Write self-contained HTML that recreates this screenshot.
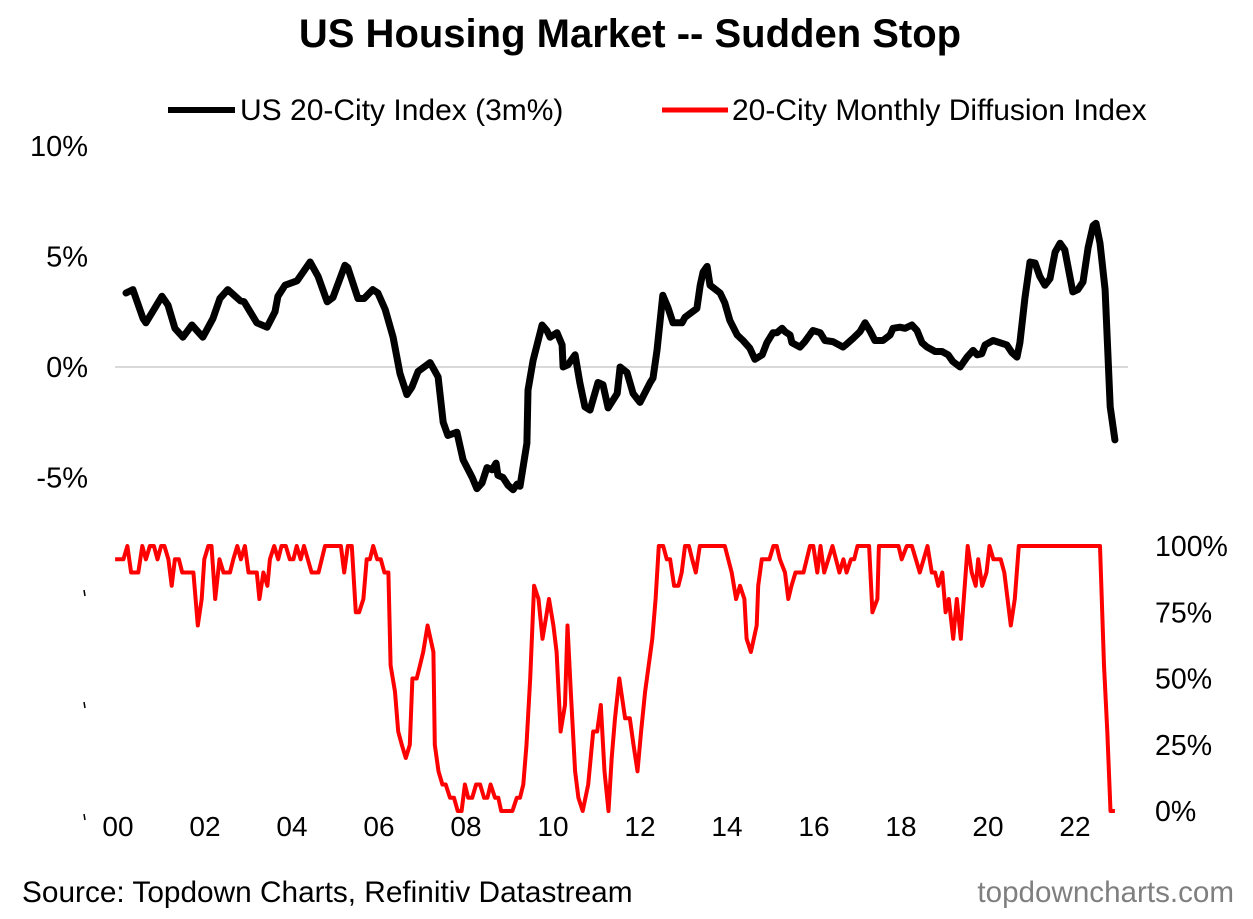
<!DOCTYPE html>
<html><head><meta charset="utf-8"><style>
html,body{margin:0;padding:0;background:#fff;}
svg{display:block;font-family:"Liberation Sans",Arial,sans-serif;}
</style></head><body>
<svg id="chart" width="1253" height="919" viewBox="0 0 1253 919" xmlns="http://www.w3.org/2000/svg">
<text x="630" y="47" text-anchor="middle" font-size="40" font-weight="bold" fill="#000">US Housing Market -- Sudden Stop</text>
<g>
 <g>
  <line x1="168" y1="110" x2="235" y2="110" stroke="#000" stroke-width="6"/>
  <text x="240" y="120" font-size="30" fill="#000">US 20-City Index (3m%)</text>
 </g>
 <g>
  <line x1="662" y1="110" x2="728" y2="110" stroke="#f00" stroke-width="5"/>
  <text x="732" y="120" font-size="30" fill="#000">20-City Monthly Diffusion Index</text>
 </g>
</g>
<line x1="115" y1="367" x2="1128" y2="367" stroke="#d9d9d9" stroke-width="2"/>
<g id="axes"></g>
<g id="series"></g>
<text x="22" y="902" font-size="29.8" fill="#000">Source: Topdown Charts, Refinitiv Datastream</text>
<text x="1234" y="902" text-anchor="end" font-size="29.6" fill="#7f7f7f">topdowncharts.com</text>
</svg>
<script>
// Black series: months since Jan 2000, 3m% change
const blackMonths=[2.2,4.1,6.9,7.7,12.1,13.8,15.7,17.9,20.4,23.4,26.2,28.1,30.3,33.7,34.8,38.3,41.1,43.3,44.1,46.1,49.4,53.0,55.2,57.7,59.3,62.6,63.4,66.2,67.9,70.3,71.7,73.7,75.9,77.8,79.7,81.1,82.8,86.1,88.3,89.7,91.0,93.5,95.2,97.7,99.0,100.4,101.8,103.2,104.3,104.8,106.2,107.6,109.0,110.1,110.9,112.8,113.1,114.5,117.0,118.3,119.2,121.1,122.5,122.8,124.1,126.1,127.4,128.8,130.2,132.4,133.8,135.2,137.7,138.5,140.4,142.1,144.0,146.8,147.6,148.7,150.3,151.7,153.1,155.6,156.4,159.7,160.6,161.4,162.5,163.3,166.1,167.4,168.8,170.8,172.4,174.3,175.7,177.7,179.0,180.7,181.8,183.2,184.0,185.4,185.9,188.1,189.5,191.7,193.7,195.0,197.2,200.0,201.1,202.8,204.7,206.1,207.4,208.8,211.0,213.0,213.8,215.7,217.1,219.0,220.4,221.8,223.2,225.4,227.3,229.0,230.3,232.3,234.2,235.9,237.0,238.3,239.2,241.4,245.2,246.6,248.0,248.8,250.2,251.6,253.0,254.3,255.7,257.1,258.5,259.9,261.2,263.4,264.8,266.2,267.6,269.0,269.8,270.9,272.3,273.7,275.0];
const blackValues=[3.35,3.5,2.2,2.0,3.2,2.8,1.75,1.35,1.9,1.35,2.2,3.1,3.5,3.0,2.95,2.0,1.8,2.5,3.2,3.7,3.9,4.75,4.1,2.95,3.15,4.6,4.5,3.1,3.1,3.5,3.35,2.6,1.35,-0.3,-1.25,-0.9,-0.2,0.2,-0.45,-2.5,-3.1,-2.95,-4.2,-5.0,-5.5,-5.25,-4.55,-4.65,-4.35,-4.9,-5.0,-5.35,-5.55,-5.3,-5.4,-3.45,-1.05,0.3,1.9,1.65,1.35,1.55,1.0,0,0.1,0.55,-0.7,-1.8,-1.95,-0.7,-0.8,-1.85,-1.2,0,-0.25,-1.2,-1.6,-0.7,-0.5,0.75,3.25,2.7,2.0,2.0,2.25,2.65,3.7,4.3,4.55,3.7,3.35,2.9,2.1,1.45,1.2,0.85,0.35,0.55,1.1,1.55,1.55,1.75,1.6,1.45,1.1,0.9,1.15,1.65,1.55,1.2,1.15,0.9,1.05,1.3,1.6,2.0,1.65,1.2,1.2,1.45,1.75,1.8,1.75,1.9,1.65,1.1,0.9,0.7,0.7,0.55,0.25,0,0.45,0.75,0.55,0.6,1.0,1.2,1.0,0.65,0.45,1.1,3.15,4.75,4.7,4.1,3.7,4.0,5.2,5.6,5.3,3.4,3.5,3.85,5.4,6.4,6.5,5.6,3.5,-1.8,-3.3];
// Red series: months since Jan 2000, diffusion index %
const redMonths=[-0.8,1.5,2.6,3.6,5.6,6.7,7.7,8.8,9.9,10.9,11.9,12.8,13.9,14.8,15.7,16.8,17.7,20.8,22.0,23.1,23.8,24.9,25.8,26.8,28.0,29.1,30.9,31.8,32.9,33.9,35.0,36.0,38.3,39.0,40.1,41.2,41.9,43.1,44.2,45.1,46.3,47.4,48.4,49.3,50.4,51.3,53.4,55.3,57.1,61.5,62.4,63.4,64.5,65.6,66.5,67.7,68.6,69.5,70.4,71.5,72.5,73.5,74.6,75.2,76.4,77.3,78.3,79.4,80.5,81.2,82.4,83.3,84.2,85.4,87.0,87.4,88.4,89.5,90.4,91.6,92.7,93.7,94.8,95.7,96.6,97.7,98.8,99.9,101.0,101.9,102.8,104.0,104.9,105.7,108.8,110.0,110.9,111.8,112.7,113.7,114.8,116.0,117.1,118.0,118.9,120.1,121.0,122.1,123.3,124.0,124.9,126.1,127.0,128.2,129.7,131.1,132.2,133.2,134.2,135.3,136.2,137.1,138.3,139.9,141.2,142.2,143.3,144.3,145.4,147.4,148.3,149.2,150.4,151.4,152.3,153.4,154.6,155.5,156.4,157.5,158.4,159.4,160.5,167.4,169.3,170.5,171.6,172.8,173.4,174.6,176.2,176.6,177.6,179.7,180.8,181.7,182.6,184.0,184.9,185.8,186.9,189.1,190.9,191.8,192.9,193.8,194.8,197.1,199.0,200.1,201.0,202.2,203.1,204.0,207.2,208.1,209.5,209.9,215.3,216.2,217.6,219.0,221.2,223.3,224.5,225.4,226.3,227.4,228.3,229.2,230.4,231.4,232.5,234.4,235.5,236.6,237.3,238.4,239.6,240.4,241.5,243.5,244.5,246.3,247.4,248.5,270.9,272.0,272.9,273.8,275.0];
const redValues=[95,95,100,90,90,100,95,100,100,95,100,100,95,85,95,95,90,90,70,80,95,100,100,80,95,90,90,95,100,95,100,90,90,80,90,85,95,100,95,100,100,95,95,100,95,100,90,90,100,100,90,100,100,75,75,80,95,95,100,95,95,90,90,55,45,30,25,20,25,50,50,55,60,70,60,25,15,10,10,5,5,0,0,10,5,5,10,10,5,5,10,5,5,0,0,5,5,10,25,50,85,80,65,72.5,80,70,60,30,40,70,45,15,5,0,10,30,30,40,15,0,20,35,50,35,35,25,15,30,45,65,80,100,100,95,95,85,85,90,100,100,95,90,100,100,90,80,85,80,65,60,70,85,95,95,100,100,95,90,80,85,90,90,100,100,90,100,90,100,90,95,90,95,95,100,100,75,80,100,100,95,100,100,90,100,90,90,85,90,75,80,65,80,65,100,90,85,95,85,90,100,95,95,90,70,80,100,100,55,30,0,0];
const leftTicks=[10,5,0,-5];
const leftTickLabels=["10%","5%","0%","-5%"];
const rightTicks=[100,75,50,25,0];
const rightTickLabels=["100%","75%","50%","25%","0%"];
const xTickYears=[0,2,4,6,8,10,12,14,16,18,20,22];
const xTickLabels=["00","02","04","06","08","10","12","14","16","18","20","22"];

const NS="http://www.w3.org/2000/svg";
const xM=m=>118+m*3.625;
const yL=v=>367-v*22.1;
const yR=v=>811-v*2.65;
const axes=document.getElementById('axes');
const series=document.getElementById('series');
function mk(tag,attrs,parent,txt){const e=document.createElementNS(NS,tag);for(const k in attrs)e.setAttribute(k,attrs[k]);if(txt!==undefined)e.textContent=txt;parent.appendChild(e);return e;}

leftTicks.forEach((v,i)=>{
 const t=mk('text',{x:88,y:yL(v)+10,'text-anchor':'end','font-size':29,fill:'#000'},axes,leftTickLabels[i]);
 
 
});
rightTicks.forEach((v,i)=>{
 const t=mk('text',{x:1155,y:yR(v)+10,'font-size':28.5,fill:'#000'},axes,rightTickLabels[i]);
 
 
});
[593,705,817].forEach(y=>{
 const l=mk('line',{x1:84,y1:y-3,x2:85,y2:y+3,stroke:'#000','stroke-width':1.5},axes);
 
 
});
xTickYears.forEach((yr,i)=>{
 const t=mk('text',{x:xM(yr*12),y:836,'text-anchor':'middle','font-size':28,fill:'#000'},axes,xTickLabels[i]);
 
 
});

const rp=mk('polyline',{points:redMonths.map((m,i)=>xM(m).toFixed(1)+','+yR(redValues[i]).toFixed(1)).join(' '),fill:'none',stroke:'#f00','stroke-width':4,'stroke-linejoin':'round'},series);


const bp=mk('polyline',{points:blackMonths.map((m,i)=>xM(m).toFixed(1)+','+yL(blackValues[i]).toFixed(1)).join(' '),fill:'none',stroke:'#000','stroke-width':7,'stroke-linejoin':'round','stroke-linecap':'round'},series);


</script>
</body></html>
